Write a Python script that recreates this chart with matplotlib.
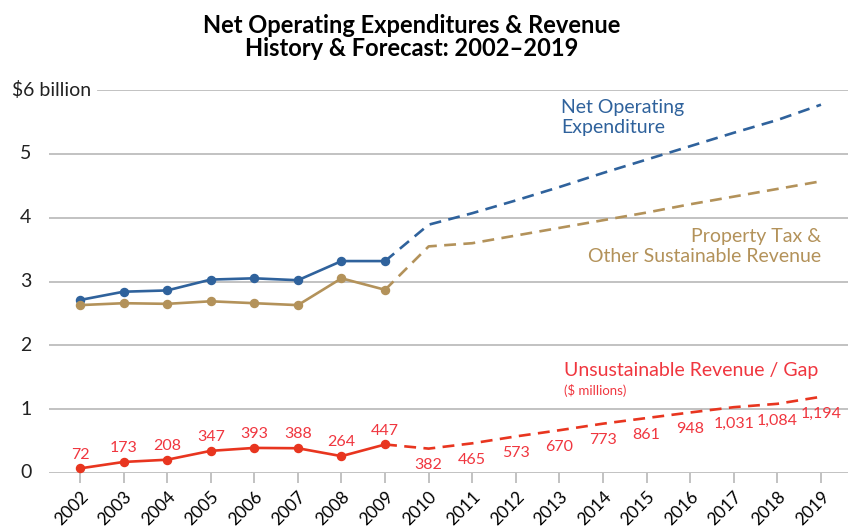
import numpy as np
import matplotlib
matplotlib.use("Agg")
from matplotlib import pyplot as plt

plt.rcParams["font.family"] = ["Lato", "DejaVu Sans"]

# Data (billions of dollars, red series in millions)
years = list(range(2002, 2020))
n_hist = 8  # 2002-2009 are history, rest forecast
expenditure = [2.71, 2.84, 2.86, 3.03, 3.05, 3.02, 3.32, 3.32,
               3.89, 4.07, 4.27, 4.48, 4.70, 4.91, 5.12, 5.33, 5.53, 5.77]
sustainable = [2.63, 2.66, 2.65, 2.69, 2.66, 2.63, 3.05, 2.87,
               3.55, 3.60, 3.72, 3.84, 3.96, 4.08, 4.21, 4.33, 4.45, 4.57]
gap_millions = [72, 173, 208, 347, 393, 388, 264, 447,
                382, 465, 573, 670, 773, 861, 948, 1031, 1084, 1194]
y_ticks = [0, 1, 2, 3, 4, 5]

BLUE = "#2f629c"
TAN = "#b3925a"
RED = "#e8351f"
RED_TXT = "#f0363f"
GRID = "#bdbdbd"

fig = plt.figure(figsize=(8.48, 5.27), dpi=100)
ax = fig.add_axes([49/848, 1 - 473/527, 799/848, (473 - 90)/527])
ax.set_xlim(2001.29, 2019.62)
ax.set_ylim(0, 6)

#Gridlines
for t in y_ticks[1:]:
    ax.axhline(t, color=GRID, lw=1.3, zorder=1)
ax.axhline(6, xmin=49/799, color=GRID, lw=1.3, zorder=1)
ax.axhline(0, color=GRID, lw=1.3, zorder=1)

gap = [g / 1000 for g in gap_millions]

def draw(vals, color, ms=5.8):
    h = slice(0, n_hist)
    f = slice(n_hist - 1, None)
    ax.plot(years[h], vals[h], color=color, lw=1.9, marker="o", ms=ms,
            zorder=3, clip_on=False)
    ax.plot(years[f], vals[f], color=color, lw=1.9, ls=(0, (4.5, 2.8)),
            zorder=3, clip_on=False)

draw(expenditure, BLUE)
draw(sustainable, TAN)
draw(gap, RED)

#Value labels for the red series
for i, (yr, g) in enumerate(zip(years, gap_millions)):
    if i < n_hist:
        ax.annotate(f"{g:,}", (yr, g / 1000), xytext=(0, 10), textcoords="offset points",
                    ha="center", va="center", color=RED_TXT, fontsize=11.5, zorder=4)
    else:
        ax.annotate(f"{g:,}", (yr, g / 1000), xytext=(0, -12), textcoords="offset points",
                    ha="center", va="center", color=RED_TXT, fontsize=11.5, zorder=4)

#Series labels
ax.text(2013.04, 5.57, "Net Operating\nExpenditure", color=BLUE, fontsize=14,
        ha="left", va="center", linespacing=1.25)
ax.text(2019.0, 3.55, "Property Tax &\nOther Sustainable Revenue", color=TAN,
        fontsize=14, ha="right", va="center", multialignment="right", linespacing=1.25)
ax.text(2013.1, 1.6, "Unsustainable Revenue / Gap", color=RED_TXT, fontsize=14,
        ha="left", va="center")
ax.text(2013.1, 1.3, "($ millions)", color=RED_TXT, fontsize=9.5, ha="left", va="center")

#Axes styling
for s in ax.spines.values():
    s.set_visible(False)
ax.set_yticks([])
ax.set_xticks(years)
ax.set_xticklabels([str(y) for y in years], rotation=45, ha="right",
                   rotation_mode="anchor", fontsize=12.5)
ax.tick_params(axis="x", length=7, width=1.3, color=GRID, pad=4)

for t in y_ticks:
    ax.text(-0.022, t, str(t), transform=ax.get_yaxis_transform(), ha="right",
            va="center", fontsize=14, color="#222222")
fig.text(12/848, 1 - 90/527, "$6 billion", ha="left", va="center",
         fontsize=14, color="#222222")

fig.text(0.485, 1 - 37/527, "Net Operating Expenditures & Revenue\nHistory & Forecast: 2002\u20132019",
         ha="center", va="center", fontsize=17, fontweight="bold", linespacing=1.05)

fig.savefig("out.png", dpi=100)
